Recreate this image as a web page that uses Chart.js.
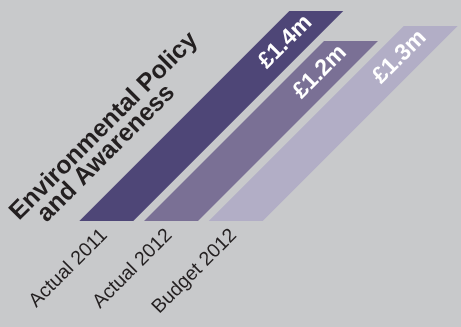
<!DOCTYPE html>
<html lang="en">
<head>
    <meta charset="UTF-8">
    <title>Environmental Policy and Awareness</title>
    <script src="https://cdn.jsdelivr.net/npm/chart.js"></script>
    <style>
        body {
            margin: 0;
            padding: 0;
            background: #c8c9cb;
        }
        canvas {
            display: block;
            background: #c8c9cb;
        }
    </style>
</head>
<body>

<canvas id="spendChart" width="461" height="327"></canvas>

<script>
    // Spend per period, in £ millions
    const periods = ['Actual 2011', 'Actual 2012', 'Budget 2012'];
    const spend = [1.4, 1.2, 1.3];
    const barColours = ['#4e4677', '#7a7095', '#b2aec6'];
    const titleLines = ['Environmental Policy', 'and Awareness'];

    const textColour = '#231f20';
    const fontFamily = 'Liberation Sans, Arial, sans-serif';

    // lean the bars over 45 degrees, pivoting on the baseline
    const slantBars = {
        id: 'slantBars',
        beforeDatasetsDraw(chart) {
            const base = chart.scales.y.getPixelForValue(0);
            chart.ctx.save();
            chart.ctx.transform(1, 0, -1, 1, base, 0);
        },
        afterDatasetsDraw(chart) {
            chart.ctx.restore();
        }
    };

    // "£1.4m" style labels running up the top end of each bar
    const valueLabels = {
        id: 'valueLabels',
        afterDatasetsDraw(chart) {
            const ctx = chart.ctx;
            const meta = chart.getDatasetMeta(0);
            ctx.save();
            ctx.fillStyle = '#ffffff';
            ctx.font = 'bold 23px ' + fontFamily;
            ctx.textAlign = 'center';
            ctx.textBaseline = 'middle';
            meta.data.forEach((bar, i) => {
                const topX = bar.x + (bar.base - bar.y);
                const drop = 31;
                ctx.save();
                ctx.translate(topX - drop, bar.y + drop);
                ctx.rotate(-Math.PI / 4);
                ctx.fillText('£' + spend[i].toFixed(1) + 'm', 0, 0);
                ctx.restore();
            });
            ctx.restore();
        }
    };

    // two-line heading set on the same slant as the bars
    const slantTitle = {
        id: 'slantTitle',
        afterDraw(chart) {
            const ctx = chart.ctx;
            ctx.save();
            ctx.fillStyle = textColour;
            ctx.font = 'bold 25px ' + fontFamily;
            ctx.textAlign = 'left';
            ctx.textBaseline = 'alphabetic';
            ctx.translate(19, 221);
            ctx.rotate(-Math.PI / 4);
            ctx.fillText(titleLines[0], 0, 0);
            ctx.fillText(titleLines[1], 18, 21);
            ctx.restore();
        }
    };

    new Chart(document.getElementById('spendChart'), {
        type: 'bar',
        data: {
            labels: periods,
            datasets: [{
                data: spend,
                backgroundColor: barColours,
                borderWidth: 0,
                categoryPercentage: 1,
                barPercentage: 0.835,
                clip: false
            }]
        },
        options: {
            responsive: false,
            devicePixelRatio: 1,
            animation: false,
            layout: {
                padding: { left: 74, right: 193, top: 11, bottom: 0 }
            },
            plugins: {
                legend: { display: false },
                tooltip: { enabled: false },
                title: { display: false }
            },
            scales: {
                x: {
                    grid: { display: false, drawTicks: false },
                    border: { display: false },
                    afterFit(scale) { scale.height = 106; },
                    ticks: {
                        color: textColour,
                        font: { family: fontFamily, size: 19.5 },
                        minRotation: 45,
                        maxRotation: 45,
                        autoSkip: false,
                        padding: 3,
                        labelOffset: -2
                    }
                },
                y: {
                    display: false,
                    min: 0,
                    max: 1.4
                }
            }
        },
        plugins: [slantBars, valueLabels, slantTitle]
    });
</script>

</body>
</html>
